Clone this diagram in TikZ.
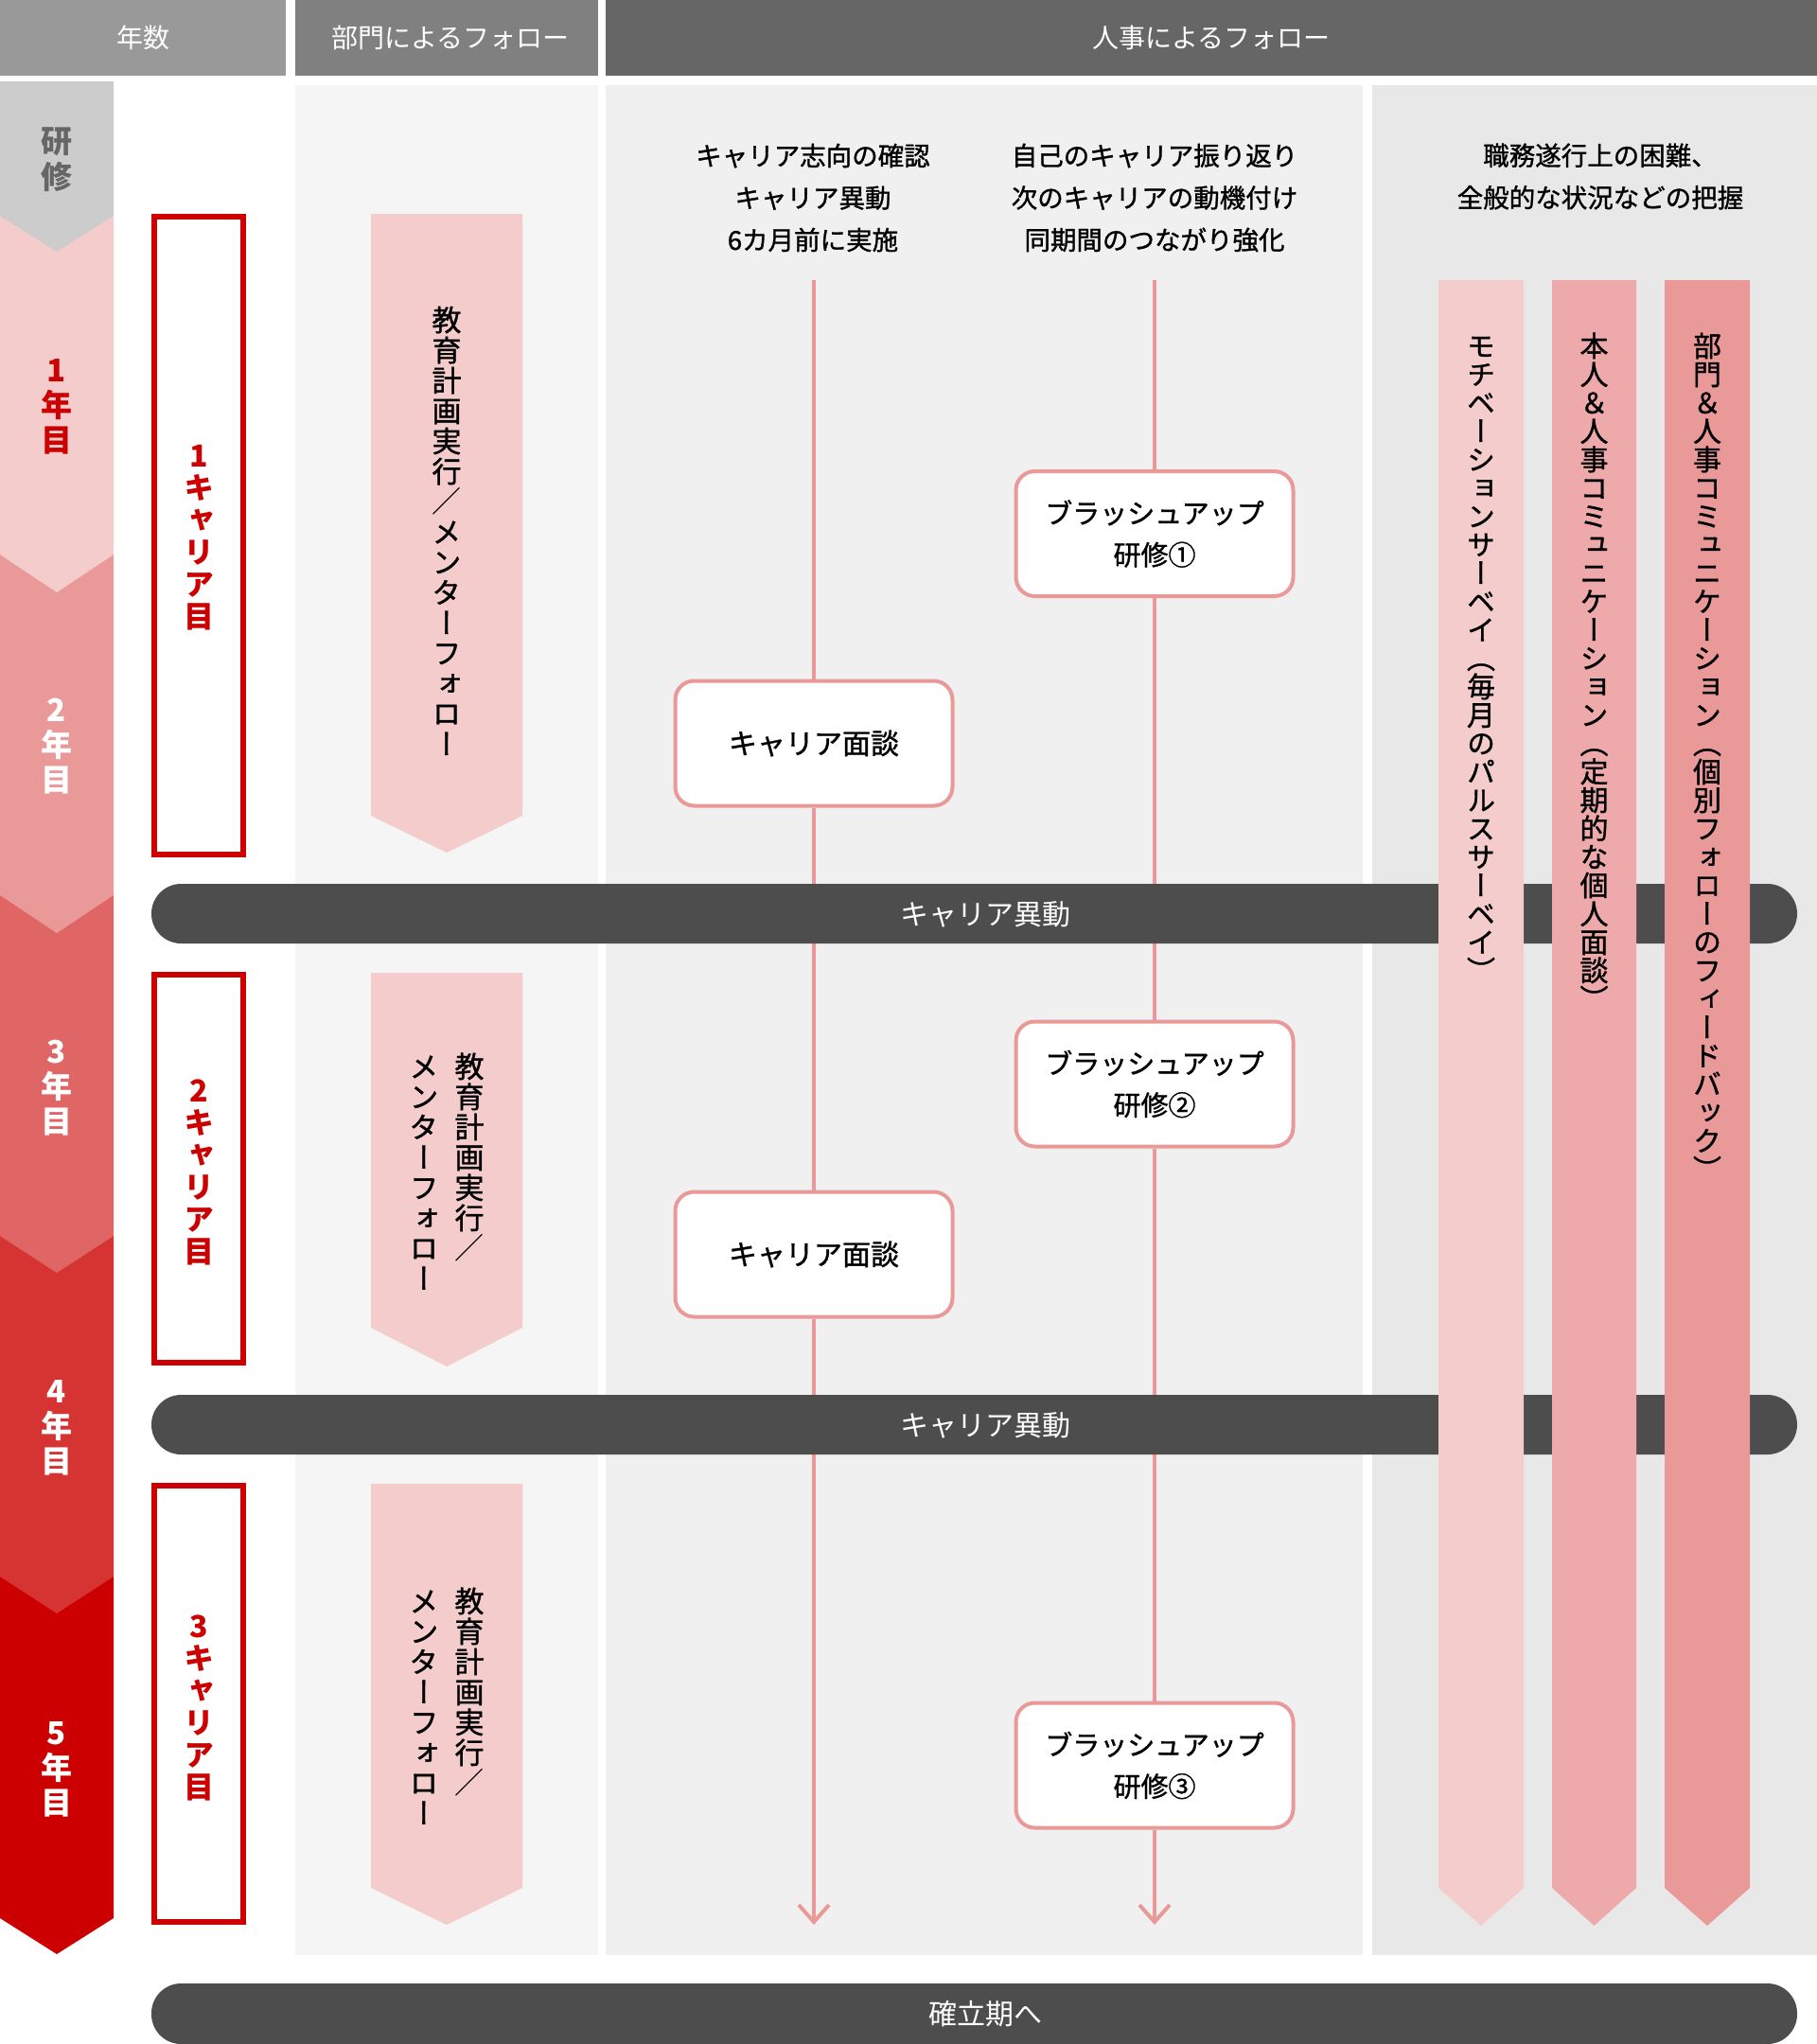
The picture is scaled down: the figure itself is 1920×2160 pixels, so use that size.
\documentclass[tikz,border=0pt]{standalone}
\usepackage{fontspec}
\setmainfont{Noto Sans CJK JP}
\newfontfamily\jph{Noto Sans CJK JP}
\newfontfamily\jpm{Noto Sans CJK JP}[FakeBold=1.1]
\newfontfamily\jpv{Noto Sans CJK JP}[RawFeature={+vert}]
\newfontfamily\jpvm{Noto Sans CJK JP}[RawFeature={+vert},FakeBold=1.1]
\usetikzlibrary{arrows.meta}
\definecolor{hA}{HTML}{999999}
\definecolor{hB}{HTML}{808080}
\definecolor{hC}{HTML}{666666}
\definecolor{pB}{HTML}{F5F5F5}
\definecolor{pC}{HTML}{F0F0F0}
\definecolor{pD}{HTML}{E8E8E8}
\definecolor{gyc}{HTML}{CCCCCC}
\definecolor{gyt}{HTML}{666666}
\definecolor{yA}{HTML}{F4CCCC}
\definecolor{yB}{HTML}{EA9999}
\definecolor{yC}{HTML}{E06666}
\definecolor{yD}{HTML}{D63333}
\definecolor{yE}{HTML}{CC0000}
\definecolor{rd}{HTML}{CC0000}
\definecolor{pkA}{HTML}{F4CCCC}
\definecolor{pkB}{HTML}{EEAAAA}
\definecolor{pkC}{HTML}{EA9999}
\definecolor{lnc}{HTML}{EA9999}
\definecolor{cBar}{HTML}{4D4D4D}
\makeatletter
\newdimen\vt@pitchdim
\def\vt@end{\vt@end}
\def\vt@loop#1{\ifx#1\vt@end\else\vt@char{#1}\expandafter\vt@loop\fi}
\def\vt@char#1{%
  \hbox to 1.2em{\hss\vrule height .88em depth .12em width 0pt\relax\ifx#1／{\jph#1}\else#1\fi\hss}}
\newcommand\vtxt[2][1em]{\vt@pitchdim=#1\relax\vbox{\baselineskip=\vt@pitchdim\lineskiplimit=-\maxdimen\lineskip=0pt\vt@loop#2\vt@end}}
\makeatother
\begin{document}
\begin{tikzpicture}[x=0.5pt,y=-0.5pt,
  hdr/.style={text=white,inner sep=0,font=\fontsize{14pt}{16pt}\selectfont},
  yl/.style={inner sep=0,font=\jpv\bfseries\fontsize{16.5pt}{16.5pt}\selectfont},
  redbox/.style={draw=rd,line width=3pt,fill=white,minimum width=47pt,inner sep=0},
  rl/.style={inner sep=0,text=rd,font=\jpv\bfseries\fontsize{16pt}{16pt}\selectfont},
  at2/.style={inner sep=0,font=\jpvm\fontsize{15.5pt}{15.5pt}\selectfont},
  c3h/.style={inner sep=0,align=center,font=\jpm\fontsize{13.75pt}{22.25pt}\selectfont},
  rbox/.style={draw=lnc,line width=2pt,fill=white,rounded corners=10pt,minimum width=146.5pt,minimum height=66pt,inner sep=0,align=center,font=\jpm\fontsize{14.5pt}{22pt}\selectfont},
  flow/.style={draw=lnc,line width=2pt},
  endarrow/.style={-{Straight Barb[length=9pt,width=16pt]}},
  barst/.style={fill=cBar,rounded corners=15.7pt,minimum width=869.5pt,minimum height=31.5pt,inner sep=0},
  bartext/.style={text=white,inner sep=0,font=\fontsize{15pt}{15pt}\selectfont},
  stx/.style={inner sep=0,anchor=north,font=\jpvm\fontsize{15pt}{15pt}\selectfont}]
\useasboundingbox (0,0) rectangle (1920,2160);
% headers
\fill[hA] (0,0) rectangle (302,80);
\fill[hB] (312,0) rectangle (632,80);
\fill[hC] (640,0) rectangle (1920,80);
\node[hdr] (h1) at (151,40) {年数};
\node[hdr] (h2) at (476,40) {部門によるフォロー};
\node[hdr] (h3) at (1280,40) {人事によるフォロー};
% panels
\fill[pB] (312,90) rectangle (632,2066);
\fill[pC] (640,90) rectangle (1440,2066);
\fill[pD] (1450,90) rectangle (1920,2066);
% year chevrons
\fill[yE] (0,1666) -- (120,1666) -- (120,2027) -- (60,2065) -- (0,2027) -- cycle;
\fill[yD] (0,1306) -- (120,1306) -- (120,1666) -- (60,1705) -- (0,1666) -- cycle;
\fill[yC] (0,946) -- (120,946) -- (120,1306) -- (60,1345) -- (0,1306) -- cycle;
\fill[yB] (0,586) -- (120,586) -- (120,946) -- (60,986) -- (0,946) -- cycle;
\fill[yA] (0,228) -- (120,228) -- (120,586) -- (60,626) -- (0,586) -- cycle;
\fill[gyc] (0,86) -- (120,86) -- (120,228) -- (60,266) -- (0,228) -- cycle;
\node[yl,text=gyt] (yk) at (60,168) {\vtxt[19pt]{研修}};
\node[yl,text=rd] (y1t) at (60,428) {\vtxt[18.5pt]{1年目}};
\node[yl,text=white] (y2t) at (60,787) {\vtxt[18.5pt]{2年目}};
\node[yl,text=white] (y3t) at (60,1148) {\vtxt[18.5pt]{3年目}};
\node[yl,text=white] (y4t) at (60,1507) {\vtxt[18.5pt]{4年目}};
\node[yl,text=white] (y5t) at (60,1868) {\vtxt[18.5pt]{5年目}};
% career boxes
\node[redbox,minimum height=337pt] (r1) at (210,566) {};
\node[redbox,minimum height=205pt] (r2) at (210,1235) {};
\node[redbox,minimum height=230.5pt] (r3) at (210,1800.5) {};
\node[rl] (r1t) at (210,566) {\vtxt[17pt]{1キャリア目}};
\node[rl] (r2t) at (210,1237) {\vtxt[17pt]{2キャリア目}};
\node[rl] (r3t) at (210,1803) {\vtxt[17pt]{3キャリア目}};
% department arrows
\fill[pkA] (392,226) -- (552,226) -- (552,862) -- (472,901) -- (392,862) -- cycle;
\fill[pkA] (392,1028) -- (552,1028) -- (552,1403) -- (472,1444) -- (392,1403) -- cycle;
\fill[pkA] (392,1568) -- (552,1568) -- (552,1995) -- (472,2034) -- (392,1995) -- cycle;
\node[at2] (a1t) at (472,562) {\vtxt[16pt]{教育計画実行／メンターフォロー}};
\node[at2,anchor=north] (a2r) at (496,1111) {\vtxt[16pt]{教育計画実行／}};
\node[at2,anchor=north] (a2l) at (448,1111) {\vtxt[16pt]{メンターフォロー}};
\node[at2,anchor=north] (a3r) at (496,1676) {\vtxt[16pt]{教育計画実行／}};
\node[at2,anchor=north] (a3l) at (448,1676) {\vtxt[16pt]{メンターフォロー}};
% column 3 headings
\node[c3h] (c3a) at (859,209) {キャリア志向の確認\\キャリア異動\\6カ月前に実施};
\node[c3h] (c3b) at (1220,209) {自己のキャリア振り返り\\次のキャリアの動機付け\\同期間のつながり強化};
\node[c3h] (c3c) at (1691,186.5) {職務遂行上の困難、\\全般的な状況などの把握};
% event boxes
\node[rbox] (b1) at (1220,564) {ブラッシュアップ\\研修①};
\node[rbox,font=\jpm\fontsize{15pt}{22pt}\selectfont] (m1) at (860,785.5) {キャリア面談};
\node[rbox] (b2) at (1220,1145.5) {ブラッシュアップ\\研修②};
\node[rbox,font=\jpm\fontsize{15pt}{22pt}\selectfont] (m2) at (860,1325.5) {キャリア面談};
\node[rbox] (b3) at (1220,1865.5) {ブラッシュアップ\\研修③};
% flow lines
\coordinate (l1s) at (860,296);
\coordinate (l1e) at (860,2034);
\coordinate (l2s) at (1220,296);
\coordinate (l2e) at (1220,2034);
\draw[flow] (l1s) -- (m1.north);
\draw[flow] (m1.south) -- (m2.north);
\draw[flow,endarrow] (m2.south) -- (l1e);
\draw[flow] (l2s) -- (b1.north);
\draw[flow] (b1.south) -- (b2.north);
\draw[flow] (b2.south) -- (b3.north);
\draw[flow,endarrow] (b3.south) -- (l2e);
% bars
\node[barst] (k1) at (1029.5,965.5) {};
\node[bartext] (k1t) at (1041,966) {キャリア異動};
\node[barst] (k2) at (1029.5,1505.5) {};
\node[bartext] (k2t) at (1041,1506) {キャリア異動};
\node[barst,minimum height=32pt] (k3) at (1029.5,2128) {};
\node[bartext] (k3t) at (1041,2128) {確立期へ};
% HR strips
\fill[pkA] (1520,296) -- (1610,296) -- (1610,1995) -- (1565,2035) -- (1520,1995) -- cycle;
\fill[pkB] (1640,296) -- (1729,296) -- (1729,1995) -- (1684.5,2035) -- (1640,1995) -- cycle;
\fill[pkC] (1759,296) -- (1849,296) -- (1849,1995) -- (1804,2035) -- (1759,1995) -- cycle;
\node[stx] (s1t) at (1565,350) {\vtxt{モチベーションサーベイ（毎月のパルスサーベイ）}};
\node[stx] (s2t) at (1684.5,350) {\vtxt{本人＆人事コミュニケーション（定期的な個人面談）}};
\node[stx] (s3t) at (1804,350) {\vtxt{部門＆人事コミュニケーション（個別フォローのフィードバック）}};
\end{tikzpicture}
\end{document}
